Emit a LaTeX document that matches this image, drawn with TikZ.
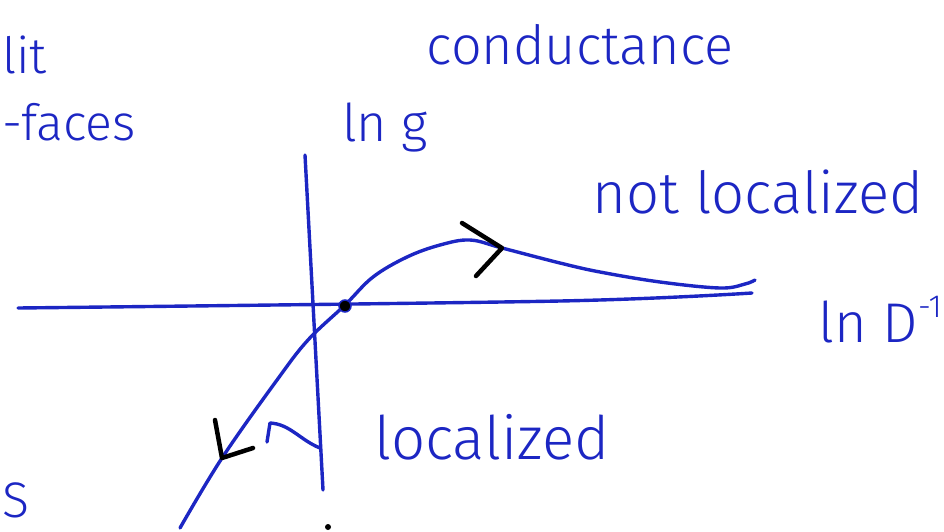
\documentclass[tikz,border=0pt]{standalone}
\usepackage{fontspec}
\setmainfont{Fira Sans Light}
\definecolor{ink}{RGB}{28,38,195}
\tikzset{
  pen/.style={draw=ink, line width=3.4pt, line cap=round, line join=round},
  tip/.style={draw=black, line width=4.5pt, line cap=round, line join=round},
  hand/.style={text=ink, inner sep=0pt, anchor=center},
}
\begin{document}
\begin{tikzpicture}[x=1pt, y=-1pt]
\useasboundingbox (0,0) rectangle (944,531);
% axes
\coordinate (hL) at (18,308);
\coordinate (hM) at (560,301);
\coordinate (hR) at (752,293);
\coordinate (vT) at (305,155);
\coordinate (vB) at (323,490);
\draw[pen] plot[smooth, tension=0.5] coordinates {(hL) (hM) (hR)};
\draw[pen] (vT) -- (vB);
% flow curve
\draw[pen] plot[smooth, tension=0.6] coordinates {(180,528) (222,458) (277,380) (308,340) (345,305) (373,277) (407,257) (440,245) (470,240) (502,248) (560,263) (600,272) (660,282) (720,288) (745,284) (755,280)};
% fixed point
\node[circle, fill=black, draw=ink, line width=1.5pt, minimum size=12pt, inner sep=0pt] (fp) at (345,306) {};
% arrows on the curve
\coordinate (a1) at (502,248);
\draw[tip] (462,223) -- (a1) -- (476,276);
\coordinate (a2) at (222,458);
\draw[tip] (215,420) -- (a2) -- (253,448);
% hook arrow from the axis
\coordinate (h1) at (320,448);
\coordinate (h2) at (270,423);
\draw[pen] (h1) .. controls (300,440) and (290,424) .. (h2) -- (267,442);
% stray dot
\node[circle, fill=black, minimum size=6pt, inner sep=0pt] (dot) at (328,527) {};
% labels
\node[hand, font=\fontsize{54}{54}\selectfont] (cond) at (580,45) {conductance};
\node[hand, font=\fontsize{52}{52}\selectfont] (lng) at (385,128) {ln g};
\node[hand, font=\fontsize{58}{58}\selectfont] (nl) at (758,192) {not localized};
\node[hand, anchor=east, font=\fontsize{56}{56}\selectfont] (lnd) at (942,320) {ln D\raisebox{0.45em}{\fontsize{32}{32}\selectfont -1}};
\node[hand, font=\fontsize{60}{60}\selectfont] (loc) at (492,437) {localized};
\node[hand, anchor=west, font=\fontsize{50}{50}\selectfont] (lit) at (2,55) {lit};
\node[hand, anchor=west, font=\fontsize{50}{50}\selectfont] (faces) at (2,122) {-faces};
\node[hand, anchor=west, font=\fontsize{50}{50}\selectfont] (s) at (2,500) {S};
\end{tikzpicture}
\end{document}
